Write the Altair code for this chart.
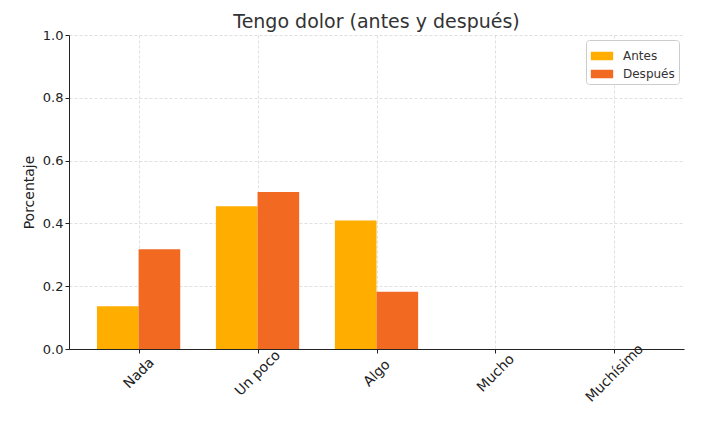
import json
import altair as alt
import pandas as pd

categories = ["Nada", "Un poco", "Algo", "Mucho", "Muchísimo"]
antes = [0.136, 0.455, 0.409, 0.0, 0.0]
despues = [0.318, 0.5, 0.182, 0.0, 0.0]
groups = ["Antes", "Después"]
colors = ["#FFAE00", "#F26A22"]
y_ticks = [0.0, 0.2, 0.4, 0.6, 0.8, 1.0]

bw = 0.35
rows = []
for i, c in enumerate(categories):
    for g, vals, off in ((groups[0], antes, -bw / 2), (groups[1], despues, bw / 2)):
        rows.append({"cat": c, "idx": i, "grupo": g, "valor": vals[i], "base": 0.0,
                     "x0": i + off - bw / 2, "x1": i + off + bw / 2})
df = pd.DataFrame(rows)

label_expr = json.dumps(categories) + "[datum.value]"
font = "DejaVu Sans"

chart = alt.Chart(df).mark_bar(stroke=None).encode(
    x=alt.X("x0:Q",
            scale=alt.Scale(domain=[-0.585, 4.585], nice=False, zero=False),
            axis=alt.Axis(values=list(range(len(categories))), labelExpr=label_expr,
                          labelAngle=315, labelAlign="center", labelBaseline="middle",
                          labelPadding=20, labelFontSize=14,
                          title=None, grid=True)),
    x2="x1:Q",
    y=alt.Y("valor:Q", scale=alt.Scale(domain=[0, 1], nice=False, padding=0),
            axis=alt.Axis(values=y_ticks, format=".1f", title="Porcentaje", grid=True)),
    y2="base:Q",
    color=alt.Color("grupo:N", scale=alt.Scale(domain=groups, range=colors),
                    legend=alt.Legend(title=None, orient="top-right", offset=5,
                                      symbolType="M-1,-0.38H1V0.38H-1Z", symbolSize=500,
                                      strokeColor="#cccccc", padding=4, cornerRadius=3,
                                      labelFont=font, labelFontSize=12, labelColor="#333333",
                                      labelOffset=9, rowPadding=-2, fillColor="white")),
).properties(
    width=615, height=314,
    title=alt.TitleParams("Tengo dolor (antes y después)", font=font, fontSize=19,
                          fontWeight="normal", color="#333333", offset=-3),
    autosize=alt.AutoSizeParams(type="none"),
    padding={"left": 61, "top": 27, "right": 20, "bottom": 80},
).configure_view(stroke=None).configure_axis(
    labelFont=font, labelFontSize=13, labelColor="#222222",
    titleFont=font, titleFontSize=14, titleFontWeight="normal", titleColor="#222222",
    domainColor="#222222", tickColor="#222222", tickSize=4,
    gridColor="#d8d8d8", gridDash=[3, 2], gridWidth=0.8,
).configure_axisY(titlePadding=6)

chart.save("out.html", embed_options={"renderer": "svg", "actions": False})
